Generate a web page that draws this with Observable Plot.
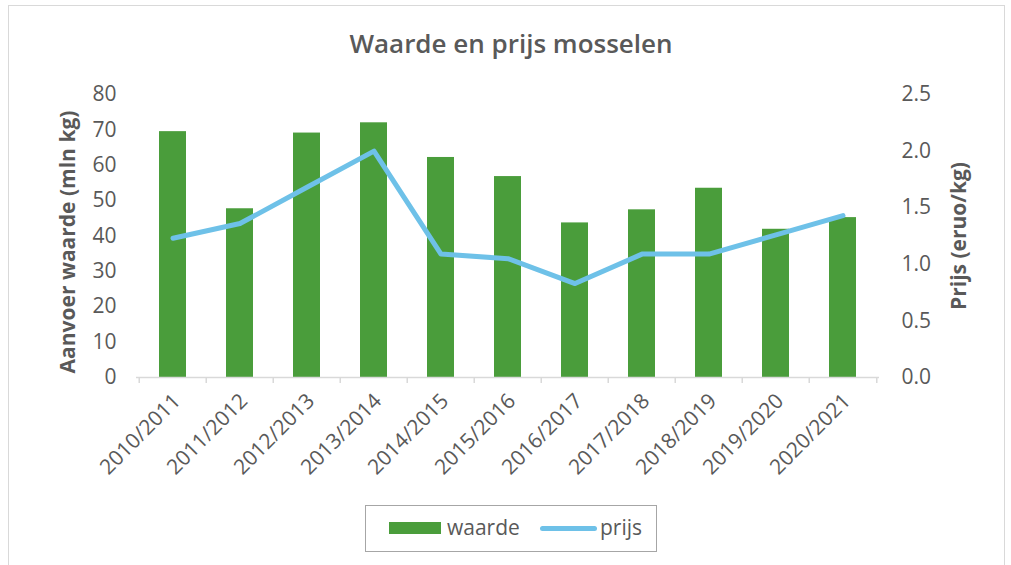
<!DOCTYPE html>
<html>
<head>
<meta charset="utf-8">
<script src="https://cdn.jsdelivr.net/npm/d3@7"></script>
<script src="https://cdn.jsdelivr.net/npm/@observablehq/plot@0.6"></script>
<style>
  html, body { margin: 0; padding: 0; background: #fff; }
  body { width: 1011px; height: 565px; position: relative; overflow: hidden; font-family: "Open Sans", sans-serif; color: #595959; }
  #frame { position: absolute; left: 8px; top: 5px; width: 997px; height: 600px; border: 1.5px solid #d9d9d9; box-sizing: border-box; }
  #title { position: absolute; left: 0; width: 1022px; top: 25px; text-align: center; font-size: 26px; font-weight: 600; color: #595959; }
  #chart { position: absolute; left: 0; top: 0; }
  #legend { position: absolute; left: 365px; top: 505px; width: 292px; height: 47px; border: 1.5px solid #a6a6a6; box-sizing: border-box; font-size: 21px; color: #595959; }
  .sw { position: absolute; }
  .lt { position: absolute; top: 7px; }
</style>
</head>
<body>
<div id="frame"></div>
<div id="title">Waarde en prijs mosselen</div>
<div id="chart"></div>
<div id="legend">
  <div class="sw" style="left:23px;width:52px;height:12px;top:16px;background:#4a9d3b"></div>
  <div class="lt" style="left:81px">waarde</div>
  <div class="sw" style="left:174px;width:57px;height:5px;top:20px;border-radius:3px;background:#6ec1e8"></div>
  <div class="lt" style="left:234px">prijs</div>
</div>
<script>
const seasons = ["2010/2011","2011/2012","2012/2013","2013/2014","2014/2015","2015/2016","2016/2017","2017/2018","2018/2019","2019/2020","2020/2021"];
const waarde = [69.5, 47.7, 69.1, 72.0, 62.2, 56.8, 43.7, 47.4, 53.5, 41.9, 45.2];
const prijs = [1.23, 1.36, 1.68, 2.00, 1.09, 1.05, 0.83, 1.09, 1.09, 1.26, 1.43];
const leftTicks = [0, 10, 20, 30, 40, 50, 60, 70, 80];
const rightTicks = [0, 0.5, 1.0, 1.5, 2.0, 2.5];

const W = 1011, H = 490;
const mL = 136, mR = 132, mT = 94, mB = 113;
const ratio = 80 / 2.5; // right axis (prijs) to left axis units
const data = seasons.map((s, i) => ({season: s, waarde: waarde[i], prijs: prijs[i]}));
const half = (W - mL - mR) / seasons.length / 2;
const plotH = H - mT - mB;
const font = "'Open Sans', sans-serif";

const chart = Plot.plot({
  width: W, height: H,
  marginLeft: mL, marginRight: mR, marginTop: mT, marginBottom: mB,
  style: {fontFamily: font, color: "#595959", background: "transparent", overflow: "visible"},
  x: {domain: seasons, paddingInner: 0.6, paddingOuter: 0.3, label: null},
  y: {domain: [0, 80], label: null},
  marks: [
    Plot.barY(data, {x: "season", y: "waarde", fill: "#4a9d3b"}),
    Plot.ruleY([0], {stroke: "#d9d9d9", strokeWidth: 1.5}),
    Plot.ruleX(seasons, {x: d => d, dx: -half, insetTop: plotH, insetBottom: -6, stroke: "#d9d9d9", strokeWidth: 1.5}),
    Plot.ruleX([seasons[seasons.length - 1]], {x: d => d, dx: half, insetTop: plotH, insetBottom: -6, stroke: "#d9d9d9", strokeWidth: 1.5}),
    Plot.line(data, {x: "season", y: d => d.prijs * ratio, stroke: "#6ec1e8", strokeWidth: 5, strokeLinecap: "round", strokeLinejoin: "round"}),
    Plot.axisY({ticks: leftTicks, tickSize: 0, tickPadding: 20, fontSize: 21, label: null}),
    Plot.axisY({anchor: "right", ticks: rightTicks.map(d => d * ratio), tickFormat: d => (d / ratio).toFixed(1), tickSize: 0, tickPadding: 22, fontSize: 21, label: null, textAnchor: "start"}),
    Plot.axisX({tickRotate: -45, tickSize: 0, tickPadding: 20, dx: 4, fontSize: 21, label: null}),
    Plot.text(["Aanvoer waarde (mln kg)"], {frameAnchor: "left", textAnchor: "middle", dx: -68, dy: 6, rotate: -90, fontSize: 21, fontWeight: "bold", fill: "#595959"}),
    Plot.text(["Prijs (eruo/kg)"], {frameAnchor: "right", textAnchor: "middle", dx: 80, dy: 0, rotate: -90, fontSize: 21, fontWeight: "bold", fill: "#595959"})
  ]
});
document.getElementById("chart").appendChild(chart);
</script>
</body>
</html>
